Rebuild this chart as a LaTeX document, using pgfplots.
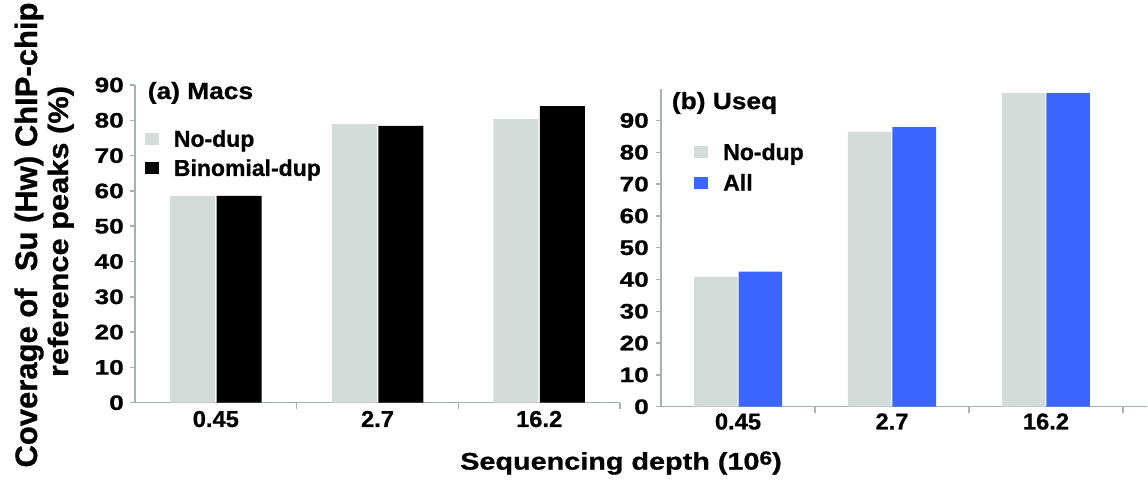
\documentclass[border=0pt]{standalone}
\usepackage{fontspec}
\setmainfont{Liberation Sans}
\newfontfamily\fy[FakeStretch=1.25, BoldFeatures={FakeBold=0.8}]{Liberation Sans}
\newfontfamily\fx[FakeStretch=1.03, BoldFeatures={FakeBold=0.8}]{Liberation Sans}
\newfontfamily\ft[FakeStretch=1.12, BoldFeatures={FakeBold=0.8}]{Liberation Sans}
\newfontfamily\fg[BoldFeatures={FakeBold=0.8}]{Liberation Sans}
\newfontfamily\fl[FakeStretch=1.2, BoldFeatures={FakeBold=0.8}]{Liberation Sans}
\newfontfamily\fyl[FakeStretch=1.1, BoldFeatures={FakeBold=0.8}]{Liberation Sans}
\usepackage{pgfplots}
\pgfplotsset{compat=1.18}
\definecolor{bgray}{HTML}{D3DCD9}
\definecolor{bblue}{HTML}{3A66FF}
\definecolor{agray}{HTML}{A6B2AF}

\pgfplotsset{
 sqlegend/.style={legend image code/.code={\fill[##1, draw=none] (0pt,-6pt) rectangle (14pt,6pt);}},
 panel/.style={
  scale only axis,
  clip=false,
  axis x line*=bottom, axis y line*=left,
  axis line style={agray, line width=1.5pt},
  tick style={agray, line width=1.5pt},
  ybar,
  ymin=0,
  xmin=-0.5,
  xtick={0,1,2}, xticklabels={0.45,2.7,16.2},
  major x tick style={draw=none},
  minor xtick={0.5,1.5,2.5},
  minor tick length=6pt,
  ytick={0,10,...,90},
  major tick length=5pt,
  tick align=outside,
  xticklabel style={font=\fx\bfseries\fontsize{23}{23}\selectfont, inner sep=0pt},
  yticklabel style={font=\fy\bfseries\fontsize{21}{21}\selectfont, inner sep=0pt},
  /pgf/number format/assume math mode=true,
  legend cell align=left,
 }
}

\begin{document}
\begin{tikzpicture}
\path (0pt,0pt) rectangle (1148pt,483pt);

\begin{axis}[panel, at={(135pt,80.3pt)}, anchor=south west,
  width=485pt, height=317.7pt, xmax=2.5, ymax=90,
  bar width=45pt, ybar=1.5pt,
  xticklabel style={yshift=-3pt},
  yticklabel style={xshift=-6pt},
  legend style={at={(0.02,0.865)}, anchor=north west, draw=none, fill=none,
    font=\fg\bfseries\fontsize{23}{23}\selectfont,
    row sep=7pt, column sep=13pt, inner sep=0pt}]
\addplot[fill=bgray, draw=none, sqlegend] coordinates {(0,58.6) (1,78.9) (2,80.3)};
\addplot[fill=black, draw=none, sqlegend] coordinates {(0,58.6) (1,78.4) (2,84.0)};
\legend{No-dup, Binomial-dup}
\node[anchor=west, inner sep=0pt, font=\ft\bfseries\fontsize{23.5}{23.5}\selectfont]
  at (rel axis cs:0.026,0.975) {(a) Macs};
\end{axis}

\begin{axis}[panel, at={(661pt,76.3pt)}, anchor=south west,
  width=486pt, height=318pt, xmax=2.656, ymax=100,
  bar width=43.5pt, ybar=1pt,
  xticklabel style={yshift=-1.5pt},
  yticklabel style={xshift=-7pt},
  legend style={at={(0.068,0.835)}, anchor=north west, draw=none, fill=none,
    font=\fg\bfseries\fontsize{23}{23}\selectfont,
    row sep=8.5pt, column sep=13pt, inner sep=0pt}]
\addplot[fill=bgray, draw=none, sqlegend] coordinates {(0,40.9) (1,86.5) (2,98.6)};
\addplot[fill=bblue, draw=none, sqlegend] coordinates {(0,42.5) (1,87.9) (2,98.6)};
\legend{No-dup, All}
\node[anchor=west, inner sep=0pt, font=\ft\bfseries\fontsize{23.5}{23.5}\selectfont]
  at (rel axis cs:0.022,0.955) {(b) Useq};
\end{axis}

\node[font=\fl\bfseries\fontsize{24}{24}\selectfont, inner sep=0pt]
  at (621pt,20pt) {Sequencing depth (10\raisebox{5pt}{\fontsize{19}{19}\selectfont 6})};
\node[rotate=90, anchor=base, font=\fg\bfseries\fontsize{31}{31}\selectfont, inner sep=0pt]
  at (37pt,248pt) {Coverage of\ \ Su (Hw) ChIP-chip};
\node[rotate=90, anchor=base, font=\fyl\bfseries\fontsize{28}{28}\selectfont, inner sep=0pt]
  at (68pt,251.5pt) {reference peaks (\%)};
\end{tikzpicture}
\end{document}
